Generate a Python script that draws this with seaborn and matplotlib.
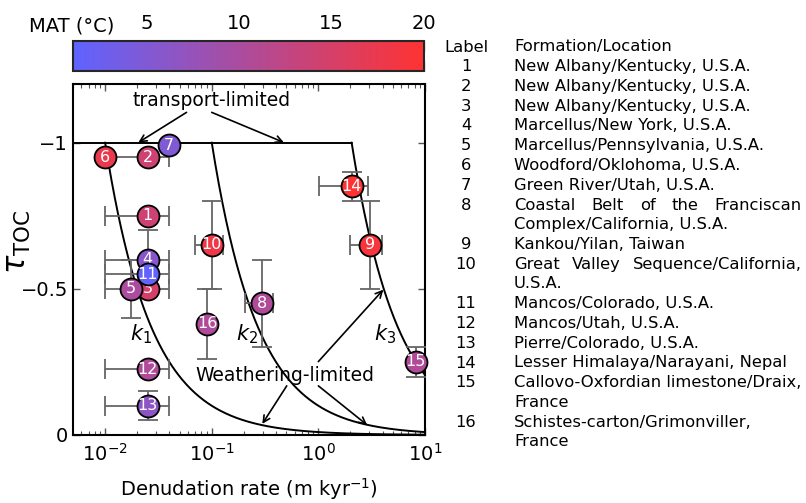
import numpy as np
import pandas as pd
import matplotlib
matplotlib.use("Agg")
import matplotlib.pyplot as plt
import seaborn as sns
from matplotlib.colors import LinearSegmentedColormap, Normalize
from matplotlib.cm import ScalarMappable

# ---------------- data ----------------
point_labels = [1, 2, 3, 4, 5, 6, 7, 8, 9, 10, 11, 12, 13, 14, 15, 16]
denudation = [0.025, 0.025, 0.025, 0.025, 0.0174, 0.010, 0.040, 0.298, 3.05, 0.100,
              0.025, 0.025, 0.025, 2.05, 8.2, 0.091]
tau_toc = [-0.75, -0.95, -0.50, -0.60, -0.50, -0.95, -0.99, -0.45, -0.65, -0.65,
           -0.55, -0.225, -0.10, -0.85, -0.25, -0.38]
den_low = [0.01, 0.01, 0.01, 0.01, None, None, None, 0.205, 1.98, 0.070,
           0.01, 0.01, 0.01, 1.01, None, None]
den_high = [0.04, 0.04, 0.04, 0.04, None, None, None, 0.377, 3.92, 0.128,
            0.04, 0.04, 0.04, 2.90, None, None]
tau_err = [0, 0, 0, 0.10, 0.10, 0, 0, 0.15, 0.15, 0.15, 0, 0, 0.05, 0.05, 0.05, 0.12]
mat = [14, 14, 15, 6, 10, 17.5, 5, 10.5, 19, 18, 1.5, 10.5, 6.5, 20, 10.5, 10.5]

k_values = [0.01, 0.1, 2.05]
k_names = ["$k_1$", "$k_2$", "$k_3$"]
k_label_x = [0.0216, 0.213, 4.2]
k_label_y = [-0.345, -0.345, -0.345]

cbar_ticks = [5, 10, 15, 20]

table_numbers = ["1", "2", "3", "4", "5", "6", "7", "8", "", "9", "10", "",
                 "11", "12", "13", "14", "15", "", "16", ""]
table_locations = ["New Albany/Kentucky, U.S.A.",
                   "New Albany/Kentucky, U.S.A.",
                   "New Albany/Kentucky, U.S.A.",
                   "Marcellus/New York, U.S.A.",
                   "Marcellus/Pennsylvania, U.S.A.",
                   "Woodford/Oklohoma, U.S.A.",
                   "Green River/Utah, U.S.A.",
                   "Coastal Belt of the Franciscan",
                   "Complex/California, U.S.A.",
                   "Kankou/Yilan, Taiwan",
                   "Great Valley Sequence/California,",
                   "U.S.A.",
                   "Mancos/Colorado, U.S.A.",
                   "Mancos/Utah, U.S.A.",
                   "Pierre/Colorado, U.S.A.",
                   "Lesser Himalaya/Narayani, Nepal",
                   "Callovo-Oxfordian limestone/Draix,",
                   "France",
                   "Schistes-carton/Grimonviller,",
                   "France"]
justified_rows = [7, 10]

df = pd.DataFrame({"label": point_labels, "D": denudation, "tau": tau_toc,
                   "lo": den_low, "hi": den_high, "terr": tau_err, "MAT": mat})

# ---------------- style ----------------
sns.set_style("ticks")
plt.rcParams['font.family'] = ['DejaVu Sans']
plt.rcParams['mathtext.fontset'] = 'dejavusans'
plt.rcParams['text.color'] = 'black'
plt.rcParams['axes.labelcolor'] = 'black'
plt.rcParams['xtick.labelcolor'] = 'black'
plt.rcParams['ytick.labelcolor'] = 'black'

W, H = 806, 503
fig = plt.figure(figsize=(W / 100, H / 100), dpi=100)
ax = fig.add_axes([73 / W, 1 - 435 / H, 352 / W, 351 / H])
cax = fig.add_axes([73 / W, 1 - 71 / H, 351 / W, 30 / H])

cmap = LinearSegmentedColormap.from_list("mat", ["#5f63ff", "#ff3333"])
norm = Normalize(1, 20)

# ---------------- model curves ----------------
ax.plot([0.005, k_values[-1]], [-1, -1], color="black", lw=1.4, zorder=2)
for k in k_values:
    d = np.logspace(np.log10(k), 1, 300)
    ax.plot(d, -k / d, color="black", lw=1.4, zorder=2)

# ---------------- points ----------------
for i, r in df.iterrows():
    z = 5 + 3 * i
    if r["lo"] is not None and not pd.isna(r["lo"]):
        ax.errorbar(r["D"], r["tau"], xerr=[[r["D"] - r["lo"]], [r["hi"] - r["D"]]],
                    fmt="none", ecolor="#666666", elinewidth=1.3, capsize=7,
                    capthick=1.3, zorder=3)
    if r["terr"] > 0:
        ax.errorbar(r["D"], r["tau"], yerr=r["terr"], fmt="none", ecolor="#666666",
                    elinewidth=1.3, capsize=7, capthick=1.3, zorder=3)
    sns.scatterplot(x=[r["D"]], y=[r["tau"]], color=cmap(norm(r["MAT"])), s=250,
                    edgecolor="black", linewidth=1.3, zorder=z, ax=ax, legend=False,
                    clip_on=False)
    ax.text(r["D"], r["tau"], str(int(r["label"])), color="white", ha="center",
            va="center", fontsize=11.5, zorder=z + 1)

# ---------------- annotations ----------------
arrow = dict(arrowstyle="->", color="black", lw=1.2, mutation_scale=12,
             shrinkA=0, shrinkB=0)
ax.text(0.1, -1.145, "transport-limited", ha="center", va="center", fontsize=13.5)
ax.annotate("", xy=(0.0205, -1.0), xytext=(0.058, -1.103), arrowprops=arrow)
ax.annotate("", xy=(0.476, -1.0), xytext=(0.1, -1.103), arrowprops=arrow)
ax.text(0.486, -0.202, "Weathering-limited", ha="center", va="center", fontsize=13.5,
        zorder=4)
ax.annotate("", xy=(0.298, -0.038), xytext=(0.505, -0.168), arrowprops=arrow)
ax.annotate("", xy=(2.87, -0.034), xytext=(1.0, -0.168), arrowprops=arrow)
ax.annotate("", xy=(4.07, -0.497), xytext=(1.0, -0.251), arrowprops=arrow)
for name, kx, ky in zip(k_names, k_label_x, k_label_y):
    ax.text(kx, ky, name, ha="center", va="center", fontsize=15)

# ---------------- axes ----------------
ax.set_xscale("log")
ax.set_xlim(0.005, 10)
ax.set_ylim(0, -1.2)
ax.set_yticks([0, -0.5, -1])
ax.set_yticklabels(["0", "\u22120.5", "\u22121"])
ax.tick_params(which="both", direction="in", top=True, right=True, labelsize=14,
               color="#555555")
ax.tick_params(which="major", length=5, width=1)
ax.tick_params(which="minor", length=3, width=0.8)
ax.tick_params(axis="x", pad=6)
for s in ax.spines.values():
    s.set_linewidth(1.5)
    s.set_color("black")
ax.set_xlabel("Denudation rate (m kyr$^{-1}$)", fontsize=14, labelpad=8)
ax.set_ylabel(r"$\tau_{\mathrm{TOC}}$", fontsize=22)
ax.yaxis.set_label_coords(-0.115, 0.55)

# ---------------- colorbar ----------------
sm = ScalarMappable(norm=norm, cmap=cmap)
cb = fig.colorbar(sm, cax=cax, orientation="horizontal", ticks=cbar_ticks)
cax.tick_params(axis="x", which="major", direction="in", length=7, width=1,
                color="#888888", top=True, bottom=True, labeltop=True,
                labelbottom=False, labelsize=14, pad=6)
cax.tick_params(axis="x", which="minor", length=0)
cb.outline.set_linewidth(1.5)
fig.text(72 / W, 1 - 26 / H, "MAT (\u00b0C)", ha="center", va="center", fontsize=14)

# ---------------- table ----------------
row_h = 19.75
y0 = 47
fs = 11.8
fig.text(466 / W, 1 - y0 / H, "Label", ha="center", va="center", fontsize=fs)
fig.text(514 / W, 1 - y0 / H, "Formation/Location", ha="left", va="center", fontsize=fs)
renderer = fig.canvas.get_renderer()
for j, (num, loc) in enumerate(zip(table_numbers, table_locations)):
    yy = 1 - (y0 + row_h * (j + 1)) / H
    if num:
        fig.text(466 / W, yy, num, ha="center", va="center", fontsize=fs)
    if j in justified_rows:
        words = loc.split(" ")
        objs = [fig.text(0, yy, w_, ha="left", va="center", fontsize=fs) for w_ in words]
        widths = [o.get_window_extent(renderer).width for o in objs]
        x_left, x_right = 514, 802
        gap = (x_right - x_left - sum(widths)) / (len(words) - 1)
        xc = x_left
        for o, wd in zip(objs, widths):
            o.set_x(xc / W)
            xc += wd + gap
    else:
        fig.text(514 / W, yy, loc, ha="left", va="center", fontsize=fs)

fig.savefig("out.png", dpi=100)
